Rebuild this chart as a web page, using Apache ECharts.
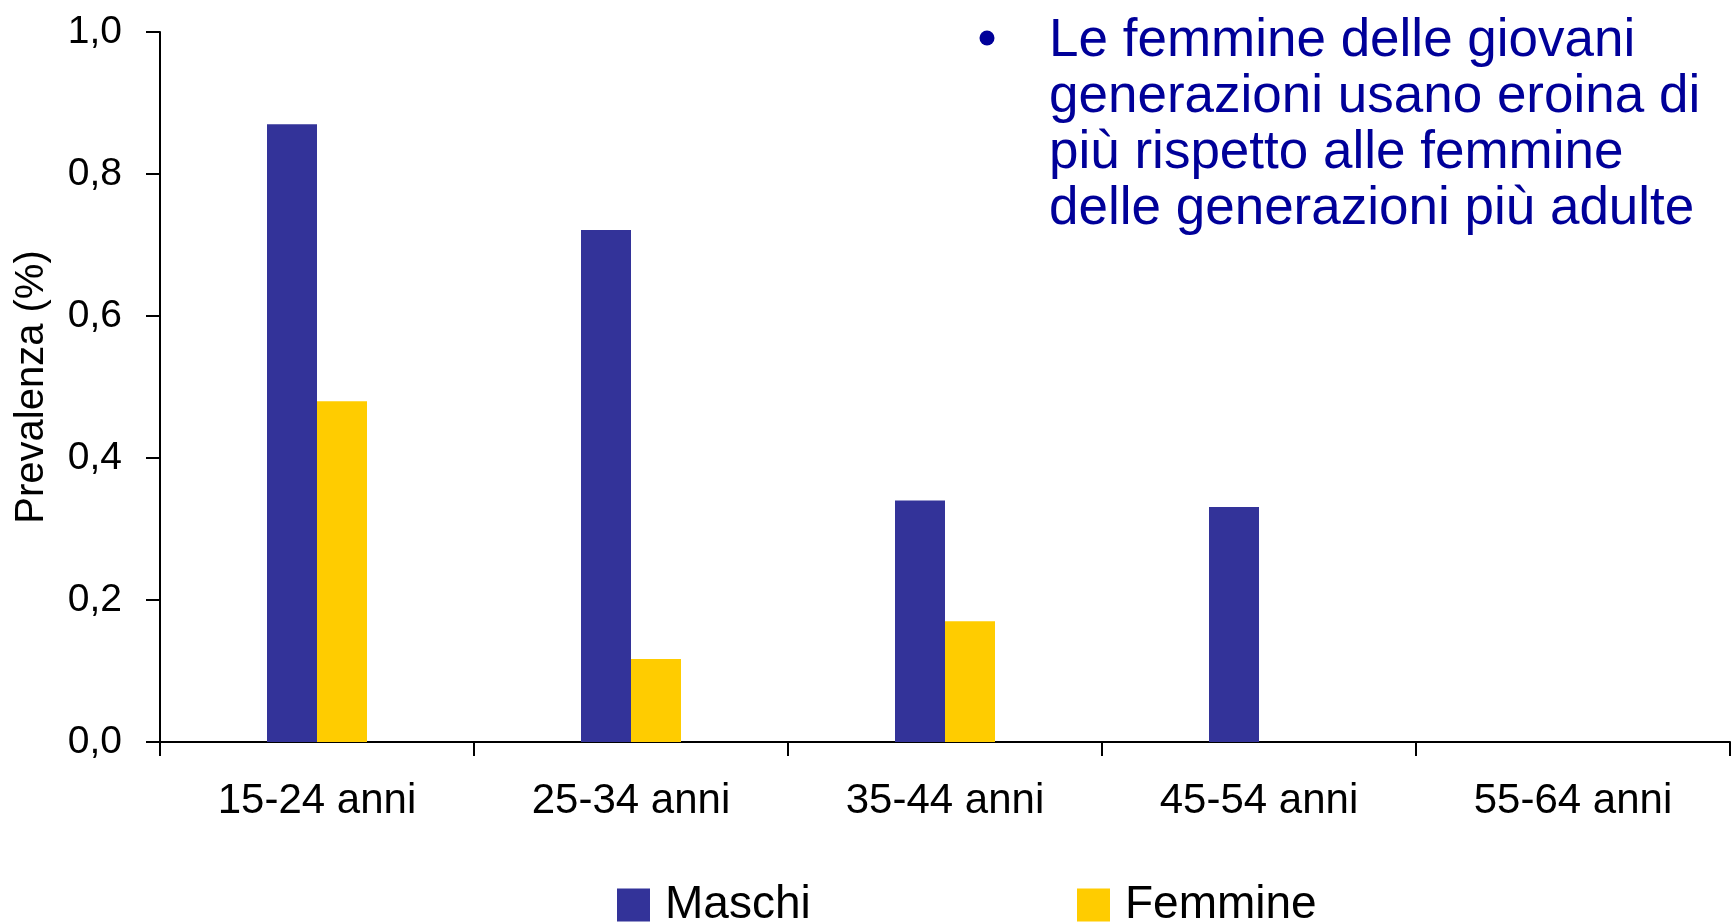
<!DOCTYPE html>
<html>
<head>
<meta charset="utf-8">
<script src="https://cdn.jsdelivr.net/npm/echarts@6/dist/echarts.min.js"></script>
<style>
  html, body { margin: 0; padding: 0; background: #fff; }
  #main { width: 1736px; height: 922px; }
</style>
</head>
<body>
<div id="main"></div>
<script>
// data
const categories = ['15-24 anni', '25-34 anni', '35-44 anni', '45-54 anni', '55-64 anni']
const maschi = [0.87, 0.721, 0.34, 0.331, 0]
const femmine = [0.48, 0.117, 0.17, 0, 0]
const noteLines = [
  'Le femmine delle giovani',
  'generazioni usano eroina di',
  'più rispetto alle femmine',
  'delle generazioni più adulte'
]

const font = '"Liberation Sans", Arial, sans-serif'
const chart = echarts.init(document.getElementById('main'))

const legendText = {
  fontFamily: font, fontSize: 46, color: '#000', lineHeight: 46,
  padding: [0, 0, 0, 10]
}

const option = {
  animation: false,
  grid: { left: 160, right: 6, top: 32, bottom: 180, containLabel: false },
  legend: [
    {
      data: ['Maschi'], left: 617, top: 882, padding: 0,
      itemWidth: 33, itemHeight: 33, itemGap: 0,
      icon: 'rect', textStyle: legendText
    },
    {
      data: ['Femmine'], left: 1077, top: 882, padding: 0,
      itemWidth: 33, itemHeight: 33, itemGap: 0,
      icon: 'rect', textStyle: legendText
    }
  ],
  xAxis: {
    type: 'category',
    data: categories,
    axisLine: { lineStyle: { color: '#000', width: 2 } },
    axisTick: { show: true, length: 14, lineStyle: { color: '#000', width: 2 } },
    axisLabel: { fontFamily: font, fontSize: 42, color: '#000', margin: 38 },
    splitLine: { show: false }
  },
  yAxis: {
    type: 'value',
    min: 0, max: 1, interval: 0.2,
    name: 'Prevalenza (%)',
    nameLocation: 'middle',
    nameGap: 108,
    nameTextStyle: { fontFamily: font, fontSize: 40, color: '#000' },
    axisLine: { show: true, lineStyle: { color: '#000', width: 2 } },
    axisTick: { show: true, length: 14, lineStyle: { color: '#000', width: 2 } },
    axisLabel: {
      fontFamily: font, fontSize: 39, color: '#000', margin: 38,
      formatter: v => v.toFixed(1).replace('.', ',')
    },
    splitLine: { show: false }
  },
  graphic: [
    {
      type: 'circle',
      shape: { cx: 987, cy: 38, r: 7.5 },
      style: { fill: '#000099' }
    },
    {
      type: 'text',
      left: 1049, top: 13,
      style: {
        text: noteLines.join('\n'),
        fontFamily: font, fontSize: 53, lineHeight: 56,
        fill: '#000099'
      }
    }
  ],
  series: [
    {
      name: 'Maschi', type: 'bar', data: maschi,
      barWidth: 50, barGap: '0%',
      itemStyle: { color: '#333399' }
    },
    {
      name: 'Femmine', type: 'bar', data: femmine,
      barWidth: 50,
      itemStyle: { color: '#FFCC00' }
    }
  ]
}

chart.setOption(option)
</script>
</body>
</html>
